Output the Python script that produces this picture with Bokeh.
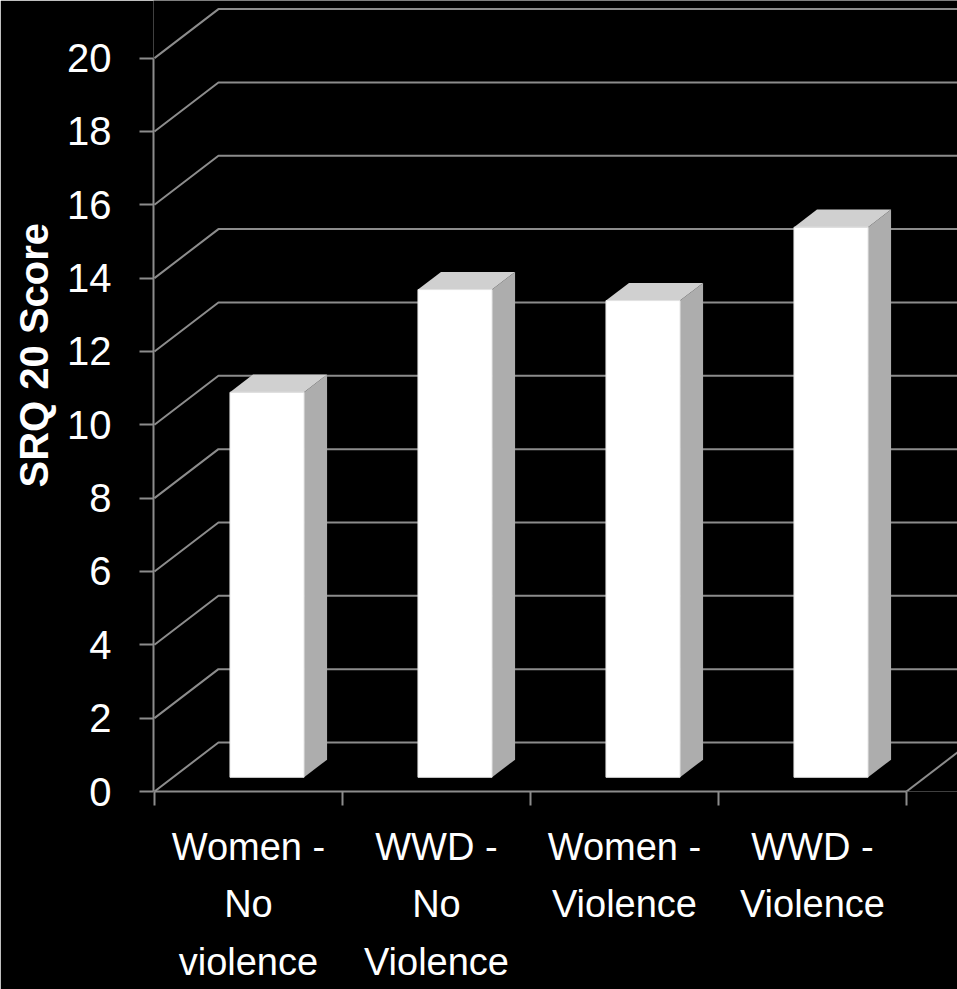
from bokeh.plotting import figure
from bokeh.models import Range1d, FixedTicker, Title
from bokeh.embed import file_html
from bokeh.resources import INLINE

# ---- data ----
categories = ["Women -\nNo\nviolence", "WWD -\nNo\nViolence", "Women -\nViolence", "WWD -\nViolence"]
scores = [10.5, 13.3, 13.0, 15.0]
y_ticks = [0, 2, 4, 6, 8, 10, 12, 14, 16, 18, 20]
y_label = "SRQ 20 Score"

# ---- style / 3D geometry ----
FONT = "Liberation Sans"
GRID = "#8c8c8c"
DX = 64 / 188.0        # depth offset in x (category units)
DY = 49 / 36.67        # depth offset in y (value units)
D0, D1 = 0.29, 0.65    # bar front / back depth fractions
HW = 0.197             # bar half width
XMAX = 804 / 188.0
YMAX = 791 / 36.67

p = figure(width=957, height=989, output_backend="svg", toolbar_location=None,
           x_range=Range1d(-0.005, XMAX - 0.005), y_range=Range1d(0, YMAX),
           min_border_left=153, min_border_right=0, min_border_top=0, min_border_bottom=198)
p.background_fill_color = "black"
p.border_fill_color = "black"
p.outline_line_color = None
p.xgrid.visible = False
p.ygrid.visible = False

# walls / floor grid
n = len(categories)
for v in y_ticks:
    p.line([0, DX, XMAX + 1], [v, v + DY, v + DY], line_color=GRID, line_width=2)
p.line([n, n + DX], [0, DY], line_color=GRID, line_width=2)

# bars
fx, fy, sx, sy, tx, ty = [], [], [], [], [], []
for i, v in enumerate(scores):
    c = i + 0.5
    l0, r0 = c - HW + D0 * DX, c + HW + D0 * DX
    l1, r1 = c - HW + D1 * DX, c + HW + D1 * DX
    b0, b1 = D0 * DY, D1 * DY
    fx.append([l0, r0, r0, l0]); fy.append([b0, b0, v + b0, v + b0])
    sx.append([r0, r1, r1, r0]); sy.append([b0, b1, v + b1, v + b0])
    tx.append([l0, r0, r1, l1]); ty.append([v + b0, v + b0, v + b1, v + b1])
p.patches(sx, sy, fill_color="#adadad", line_color=None)
p.patches(tx, ty, fill_color="#d0d0d0", line_color=None)
p.patches(fx, fy, fill_color="#ffffff", line_color="#e6e6e6", line_width=1)

# y axis
ya = p.yaxis[0]
ya.ticker = FixedTicker(ticks=y_ticks)
ya.bounds = (0, 20)
ya.axis_line_color = GRID
ya.axis_line_width = 2
ya.major_tick_line_color = GRID
ya.major_tick_line_width = 2
ya.major_tick_out = 14
ya.major_tick_in = 0
ya.minor_tick_line_color = None
ya.major_label_text_color = "white"
ya.major_label_text_font = FONT
ya.major_label_text_font_size = "40px"
ya.major_label_standoff = 28

ttl = Title(text=y_label, align="left", offset=304, text_color="white",
            text_font=FONT, text_font_style="bold", text_font_size="40px", standoff=17)
p.add_layout(ttl, "left")

# x axis
xa = p.xaxis[0]
centers = [i + 0.5 for i in range(n)]
xa.ticker = FixedTicker(ticks=centers, minor_ticks=list(range(n + 1)))
xa.major_label_overrides = {c: lab for c, lab in zip(centers, categories)}
xa.bounds = (0, n)
xa.axis_line_color = GRID
xa.axis_line_width = 2
xa.major_tick_out = 0
xa.major_tick_in = 0
xa.major_tick_line_color = None
xa.minor_tick_line_color = GRID
xa.minor_tick_line_width = 2
xa.minor_tick_out = 14
xa.minor_tick_in = 0
xa.major_label_text_color = "white"
xa.major_label_text_font = FONT
xa.major_label_text_font_size = "38px"
xa.major_label_text_line_height = 1.37
xa.major_label_standoff = 20

open("out.html", "w").write(file_html(p, INLINE))
